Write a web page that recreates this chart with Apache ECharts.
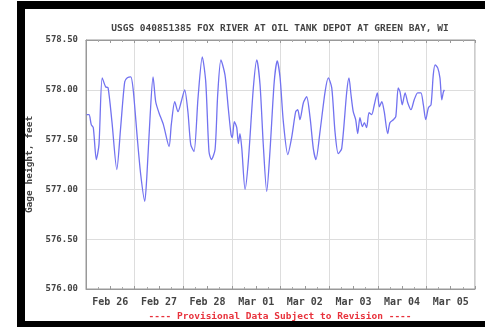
<!DOCTYPE html>
<html>
<head>
<meta charset="utf-8">
<script src="https://cdn.jsdelivr.net/npm/echarts@6/dist/echarts.min.js"></script>
<style>
html,body{margin:0;padding:0;background:#fff;}
#chart{width:485px;height:328px;}
</style>
</head>
<body>
<div id="chart"></div>
<script>
// Hours since Feb 26 00:00
const hours = [0.3,1.5,2.6,3.6,5.1,6.4,8.0,9.7,10.9,12.8,15.2,17.1,19.1,20.4,22.1,23.3,25.3,27.0,29.0,30.0,31.6,33.1,34.4,36.0,38.2,41.0,42.1,43.8,45.4,47.0,48.7,50.3,51.7,53.3,55.3,57.4,59.1,60.7,61.9,63.7,65.0,66.6,68.6,70.2,71.6,72.2,73.2,74.4,75.2,76.0,76.9,78.5,80.1,82.6,84.3,85.9,87.5,89.2,90.8,92.9,94.4,95.8,97.4,99.6,101.5,103.5,104.5,105.6,107.3,108.9,110.6,112.2,113.5,115.5,118.0,119.6,121.3,122.9,124.5,126.2,128.7,129.8,130.8,131.9,133.1,134.1,135.2,136.4,137.4,138.5,139.7,141.0,142.3,143.8,144.8,146.0,147.2,148.9,150.0,151.7,152.9,154.1,155.0,156.1,157.5,158.8,160.4,162.0,163.7,165.3,166.5,167.7,169.0,170.3,171.4,172.3,173.6,174.7,175.6,176.4,176.9];
const gageHeight = [577.75,577.75,577.65,577.62,577.30,577.45,578.12,578.03,578.02,577.68,577.20,577.62,578.08,578.12,578.13,578.00,577.52,577.15,576.88,577.12,577.72,578.13,577.88,577.77,577.65,577.43,577.65,577.88,577.78,577.88,578.00,577.78,577.45,577.38,577.92,578.33,578.08,577.38,577.30,577.40,577.95,578.30,578.15,577.82,577.55,577.52,577.68,577.62,577.46,577.56,577.41,577.00,577.28,578.02,578.30,578.05,577.45,576.98,577.38,578.08,578.29,578.12,577.68,577.35,577.52,577.78,577.80,577.70,577.87,577.93,577.72,577.41,577.30,577.58,577.98,578.12,578.02,577.58,577.36,577.41,577.98,578.12,577.95,577.78,577.70,577.56,577.72,577.63,577.67,577.62,577.77,577.75,577.85,577.97,577.83,577.88,577.78,577.56,577.67,577.70,577.73,578.02,577.98,577.85,577.97,577.87,577.80,577.90,577.97,577.97,577.85,577.70,577.82,577.85,578.15,578.25,578.22,578.12,577.90,577.98,578.00];
const dayLabels = ['Feb 26','Feb 27','Feb 28','Mar 01','Mar 02','Mar 03','Mar 04','Mar 05'];
const yTicks = [576.0, 576.5, 577.0, 577.5, 578.0, 578.5];
const titleText = 'USGS 040851385 FOX RIVER AT OIL TANK DEPOT AT GREEN BAY, WI';
const yName = 'Gage height, feet';
const footText = '---- Provisional Data Subject to Revision ----';

const FONT = '"DejaVu Sans Mono", "Liberation Mono", monospace';
const seriesData = hours.map((h, i) => [h, gageHeight[i]]);

const chart = echarts.init(document.getElementById('chart'), null, {renderer: 'canvas'});
chart.setOption({
  animation: false,
  backgroundColor: '#ffffff',
  title: {
    text: titleText,
    left: 275,
    top: 19,
    textAlign: 'center',
    textStyle: {fontFamily: FONT, fontSize: 9.5, fontWeight: 'bold', color: '#444'}
  },
  grid: {left: 86, right: 10, top: 40, bottom: 39, show: true, borderColor: '#999', borderWidth: 1, backgroundColor: 'transparent'},
  xAxis: [{
    type: 'value',
    min: 0, max: 192, interval: 12,
    position: 'bottom',
    axisLine: {show: true, lineStyle: {color: '#999', width: 1}},
    axisTick: {show: true, inside: true, length: 3, lineStyle: {color: '#999'}},
    minorTick: {show: true, splitNumber: 2, length: 2, lineStyle: {color: '#aaa'}},
    splitLine: {show: true, lineStyle: {color: ['#dddddd', 'rgba(0,0,0,0)'], width: 1}},
    axisLabel: {
      margin: 8,
      fontFamily: FONT, fontSize: 10, fontWeight: 'bold', color: '#444',
      formatter: function (v) {
        const k = Math.round(v / 12);
        if (k % 2 === 1) return dayLabels[(k - 1) / 2] || '';
        return '';
      }
    }
  }, {
    type: 'value',
    min: 0, max: 192, interval: 12,
    position: 'top',
    axisLine: {show: true, lineStyle: {color: '#999', width: 1}},
    axisTick: {show: true, inside: true, length: 3, lineStyle: {color: '#999'}},
    minorTick: {show: true, splitNumber: 2, length: 2, lineStyle: {color: '#aaa'}},
    splitLine: {show: false},
    axisLabel: {show: false}
  }],
  yAxis: {
    type: 'value',
    min: yTicks[0], max: yTicks[yTicks.length - 1], interval: 0.5,
    name: yName,
    nameLocation: 'middle',
    nameGap: 50,
    nameRotate: 90,
    nameTextStyle: {fontFamily: FONT, fontSize: 9.5, fontWeight: 'bold', color: '#444', padding: [0, 0, 0, 0]},
    axisLine: {show: true, lineStyle: {color: '#999'}},
    axisTick: {show: false},
    splitLine: {show: true, lineStyle: {color: '#dddddd', width: 1}},
    axisLabel: {
      margin: 8,
      fontFamily: FONT, fontSize: 9, fontWeight: 'bold', color: '#444',
      formatter: v => v.toFixed(2)
    }
  },
  series: [{
    type: 'line',
    xAxisIndex: 0,
    data: seriesData,
    showSymbol: false,
    smooth: 0.25,
    lineStyle: {color: '#7272f0', width: 1.3},
    z: 3
  }],
  graphic: [
    {type: 'rect', shape: {x: 17, y: 1, width: 468, height: 8}, style: {fill: '#000'}},
    {type: 'rect', shape: {x: 17, y: 1, width: 8, height: 326}, style: {fill: '#000'}},
    {type: 'rect', shape: {x: 17, y: 321, width: 468, height: 6}, style: {fill: '#000'}},
    {type: 'text', x: 280, y: 317, style: {text: footText, fill: '#e8323c', font: 'bold 9.5px ' + FONT, textAlign: 'center', textVerticalAlign: 'middle'}}
  ]
});
</script>
</body>
</html>
